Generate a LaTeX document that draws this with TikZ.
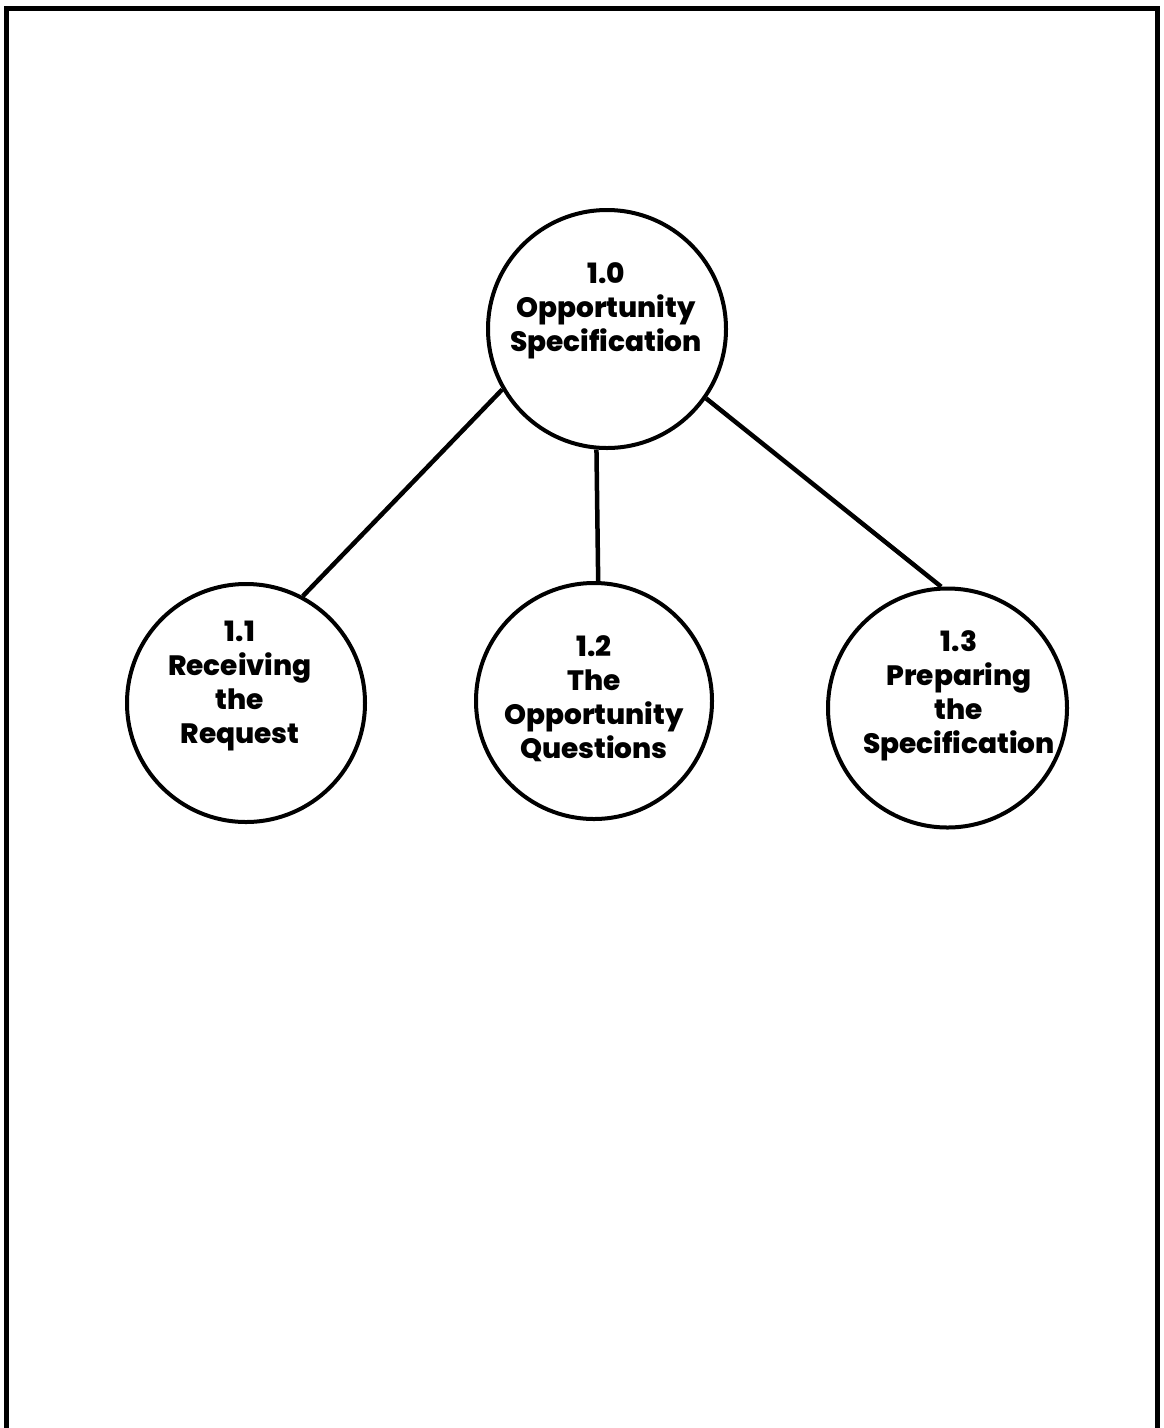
\documentclass[tikz,border=0pt]{standalone}
\usepackage{fontspec}
\setmainfont{Poppins}[BoldFont={* ExtraBold}]
\begin{document}
\begin{tikzpicture}[x=1pt,y=-1pt,
  bubble/.style={circle,draw=black,line width=4pt,inner sep=0pt,minimum size=#1},
  caption/.style={align=center,inner sep=0pt,font=\bfseries\fontsize{28}{34}\selectfont},
  link/.style={draw=black,line width=4.5pt}]
  \useasboundingbox (0,0) rectangle (1163,1428);
  % page frame, open at the foot of the sheet
  \draw[line width=5pt] (6.5,1440) -- (6.5,8) -- (1157,8) -- (1157,1440);

  % process bubbles
  \node[bubble=238pt] (c0) at (607,329) {};
  \node[bubble=238pt] (c1) at (246,703) {};
  \node[bubble=236pt] (c2) at (594,701) {};
  \node[bubble=239pt] (c3) at (947.5,708) {};

  % bubble captions
  \node[caption] (t0) at (606,311) {1.0\\Opportunity\\Specification};
  \node[caption] (t1) at (240,686) {1.1\\Receiving\\the\\Request};
  \node[caption] (t2) at (594,699) {1.2\\The\\Opportunity\\Questions};
  \node[caption] (t3) at (959,696) {1.3\\Preparing\\the\\Specification};

  % decomposition links
  \draw[link] (c0.210.8) -- (c1.62);
  \draw[link] (c0.265.2) -- (c2.88.5);
  \draw[link] (c0.325.6) -- (c3.93.6);
\end{tikzpicture}
\end{document}
